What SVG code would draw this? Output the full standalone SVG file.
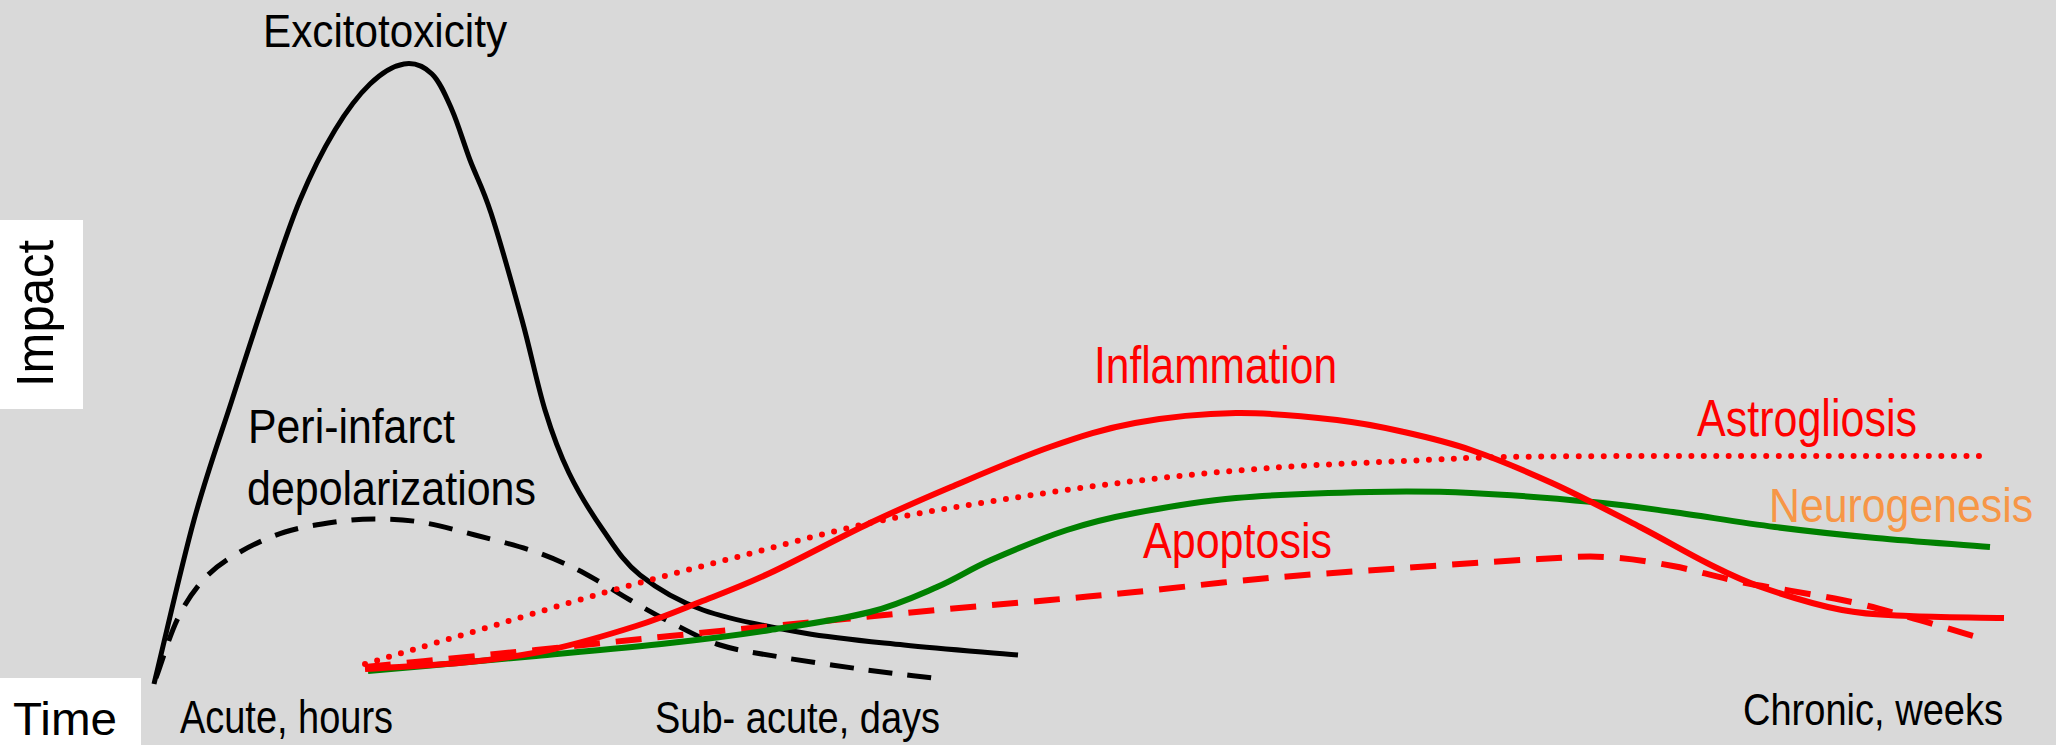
<svg xmlns="http://www.w3.org/2000/svg" width="2056" height="745" viewBox="0 0 2056 745">
<style>
text{font-family:"Liberation Sans",Arial,sans-serif;}
.k{fill:#000;}
.r{fill:#ff0000;}
.o{fill:#f79646;}
.c{fill:none;stroke-linecap:butt;stroke-linejoin:round;}
.blk{stroke:#000;stroke-width:5;}
.red{stroke:#ff0000;stroke-width:6;}
.grn{stroke:#008000;stroke-width:6;}
.dash{stroke-dasharray:24 15;}
.rdash{stroke-dasharray:26 16;}
.dot{stroke-dasharray:0 12.5;stroke-linecap:round;stroke-width:6;}
</style>
<rect x="0" y="0" width="2056" height="745" fill="#d9d9d9"/>
<g id="axis-impact">
<rect x="0" y="220" width="83" height="189" fill="#fff"/>
<text class="k" font-size="51" transform="translate(53,387) rotate(-90)" textLength="147" lengthAdjust="spacingAndGlyphs">Impact</text>
</g>
<g id="axis-time">
<rect x="0" y="678" width="141" height="67" fill="#fff"/>
<text class="k" x="13" y="735" font-size="46" textLength="104" lengthAdjust="spacingAndGlyphs">Time</text>
</g>
<g id="connectors">
<path id="peri-curve" class="c blk dash" d="M156,678 C163.3,658 169.8,634.7 178,618 S194.7,589 205,578 S226.7,559.7 240,552 S269.2,537 285,532 S320,524.2 335,522 S360.8,519 375,519 S403.3,519.3 420,522 S456.7,530.3 475,535 S514.2,544.8 530,550 S558.3,560.7 570,566 S590,576.3 600,582 S618.3,593.3 630,600 S655,614.5 670,622 S701.7,639.2 720,645 S756.7,653 780,657 S833.2,665.3 860,669 S914,675.7 941,679"/>
<path id="excito-curve" class="c blk" d="M154,684 C167.3,629.3 181,567.3 194,520 S219.7,438.3 232,400 S256.7,323.3 268,290 S288.8,226.7 300,200 S323.3,149.3 335,130 S358.5,95 370,84 S393.7,65.7 404,64 S424,66.3 432,74 S445.7,95.7 452,110 S463.5,142.8 470,160 S482.3,186.3 491,213 S513,287.2 522,320 S537.2,384.5 545,410 S559.3,453 569,473 S591.2,513 603,530 S623.3,561.7 640,575 S675.7,600.3 703,610 S770.5,627.2 804,633 S868.3,641.3 904,645 S980,651.7 1018,655"/>
<path id="astro-curve" class="c red dot" d="M365,664 C399.7,653.7 429.3,644.8 469,633 S558.3,605.7 603,593 S692.5,568.7 737,557 S826.2,532.5 870,523 S955.8,507 1000,500 S1090.2,486.3 1135,481 S1224.2,471.3 1269,468 S1364.7,462.8 1404,461 S1464,457.8 1505,457 S1600.8,456.2 1650,456 S1743.7,456 1800,456 S1925.3,456 1988,456"/>
<path id="apop-curve" class="c red rdash" d="M365,667 C422,661.3 485.2,655.2 536,650 S625.3,640.5 670,636 S759.5,627.3 804,623 S896,613.8 937,610 S1017,603 1050,600 S1098.5,595.7 1135,592 S1224.2,582 1269,578 S1359,571.2 1404,568 S1505.3,560.8 1539,559 S1583.7,555.8 1606,557 S1650.5,561.8 1673,566 S1712.8,576.3 1741,582 S1814,594.2 1842,600 S1886.5,610.8 1909,617 S1954.3,630.7 1977,637"/>
<path id="neuro-curve" class="c grn" d="M368,671 C424,666 485.7,660.7 536,656 S631,647.3 670,643 S736.7,635.2 770,630 S842.2,619.2 870,612 S916.8,595.7 937,587 S969.3,569.5 991,560 S1043,537.8 1067,530 S1106.8,518.3 1135,513 S1196.8,501.5 1236,498 S1330.8,492.8 1370,492 S1433.8,491.3 1471,493 S1559.3,498.8 1593,502 S1642.7,507.8 1673,512 S1741.2,522.7 1775,527 S1840.2,534.7 1876,538 S1952,544 1990,547"/>
<path id="inflam-curve" class="c red" d="M365,669 C399.7,666.7 438.3,665.2 469,662 S521.2,656 549,650 S610.8,634 636,626 S677.7,610.8 700,602 S741.7,586.2 770,573 S839.8,537.3 870,523 S921,499.7 951,487 S1019.3,457.7 1050,447 S1104,428.7 1135,423 S1202.3,413.5 1236,413 S1309,416.8 1337,420 S1381.7,427 1404,432 S1446.3,441.5 1471,450 S1523.8,470.2 1552,483 S1614.2,513.7 1640,527 S1686.8,553 1707,563 S1738.5,579.2 1761,587 S1817.3,605.2 1842,610 S1882,614.7 1909,616 S1972.3,617.3 2004,618"/>
</g>
<g id="label-excitotoxicity">
<text class="k" x="263" y="47" font-size="47" textLength="244" lengthAdjust="spacingAndGlyphs">Excitotoxicity</text>
</g>
<g id="label-peri">
<text class="k" x="248" y="443" font-size="49" textLength="207" lengthAdjust="spacingAndGlyphs">Peri-infarct</text>
<text class="k" x="247" y="505" font-size="49" textLength="289" lengthAdjust="spacingAndGlyphs">depolarizations</text>
</g>
<g id="label-inflammation">
<text class="r" x="1094" y="383" font-size="52" textLength="243" lengthAdjust="spacingAndGlyphs">Inflammation</text>
</g>
<g id="label-astrogliosis">
<text class="r" x="1697" y="436" font-size="52" textLength="220" lengthAdjust="spacingAndGlyphs">Astrogliosis</text>
</g>
<g id="label-neurogenesis">
<text class="o" font-size="49" transform="translate(1769,522) scale(0.874,1)">Neurogenesis</text>
</g>
<g id="label-apoptosis">
<text class="r" x="1143" y="558" font-size="50" textLength="189" lengthAdjust="spacingAndGlyphs">Apoptosis</text>
</g>
<g id="label-acute">
<text class="k" x="180" y="733" font-size="46" textLength="213" lengthAdjust="spacingAndGlyphs">Acute, hours</text>
</g>
<g id="label-subacute">
<text class="k" x="655" y="733" font-size="45" textLength="285" lengthAdjust="spacingAndGlyphs">Sub- acute, days</text>
</g>
<g id="label-chronic">
<text class="k" x="1743" y="725" font-size="45" textLength="260" lengthAdjust="spacingAndGlyphs">Chronic, weeks</text>
</g>
</svg>
